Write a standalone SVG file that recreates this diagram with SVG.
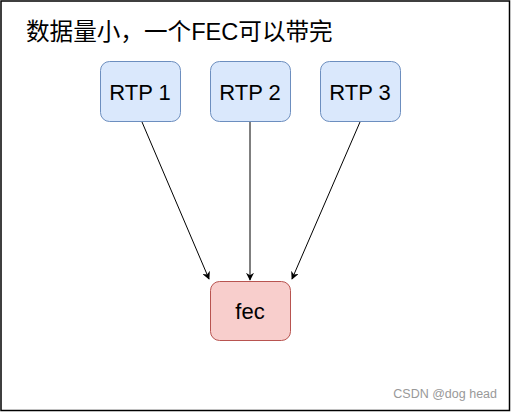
<svg xmlns="http://www.w3.org/2000/svg" width="511" height="412" viewBox="0 0 511 412">
<style>
.rtp{fill:#dae8fc;stroke:#6c8ebf;stroke-width:1}
.fec{fill:#f8cecc;stroke:#b85450;stroke-width:1}
.lbl{font-family:"Liberation Sans",Arial,sans-serif;font-size:22px;fill:#000;text-anchor:middle}
.edge{stroke:#000;stroke-width:1;fill:none}
</style>
<defs>
<marker id="arr" viewBox="0 0 10 10" refX="9" refY="5" markerWidth="8" markerHeight="8" markerUnits="userSpaceOnUse" orient="auto">
<path d="M0,0 L10,5 L0,10 L3,5 Z" fill="#000"/>
</marker>
</defs>
<rect x="0" y="0" width="511" height="412" fill="#fff"/>
<rect x="1" y="1" width="508.5" height="409.5" fill="none" stroke="#000" stroke-width="1.5"/>
<text x="26" y="39.5" font-family="'Liberation Sans','Noto Sans CJK SC',sans-serif" font-size="23.6" fill="#000">数据量小，一个FEC可以带完</text>
<g id="connectors">
<line class="edge" x1="142" y1="122" x2="209" y2="279" marker-end="url(#arr)"/>
<line class="edge" x1="250" y1="122" x2="250" y2="280" marker-end="url(#arr)"/>
<line class="edge" x1="360" y1="122" x2="292" y2="279" marker-end="url(#arr)"/>
</g>
<g id="rtp1"><rect class="rtp" x="100.5" y="61.5" width="80" height="60" rx="9"/><text class="lbl" x="140" y="99.5">RTP 1</text></g>
<g id="rtp2"><rect class="rtp" x="210.5" y="61.5" width="80" height="60" rx="9"/><text class="lbl" x="250" y="99.5">RTP 2</text></g>
<g id="rtp3"><rect class="rtp" x="320.5" y="61.5" width="80" height="60" rx="9"/><text class="lbl" x="360" y="99.5">RTP 3</text></g>
<g id="fec"><rect class="fec" x="210.5" y="281.5" width="80" height="59" rx="9"/><text class="lbl" x="250" y="318.5">fec</text></g>
<text x="497" y="398" text-anchor="end" font-family="'Liberation Sans',Arial,sans-serif" font-size="12.5" fill="#999">CSDN @dog head</text>
</svg>
